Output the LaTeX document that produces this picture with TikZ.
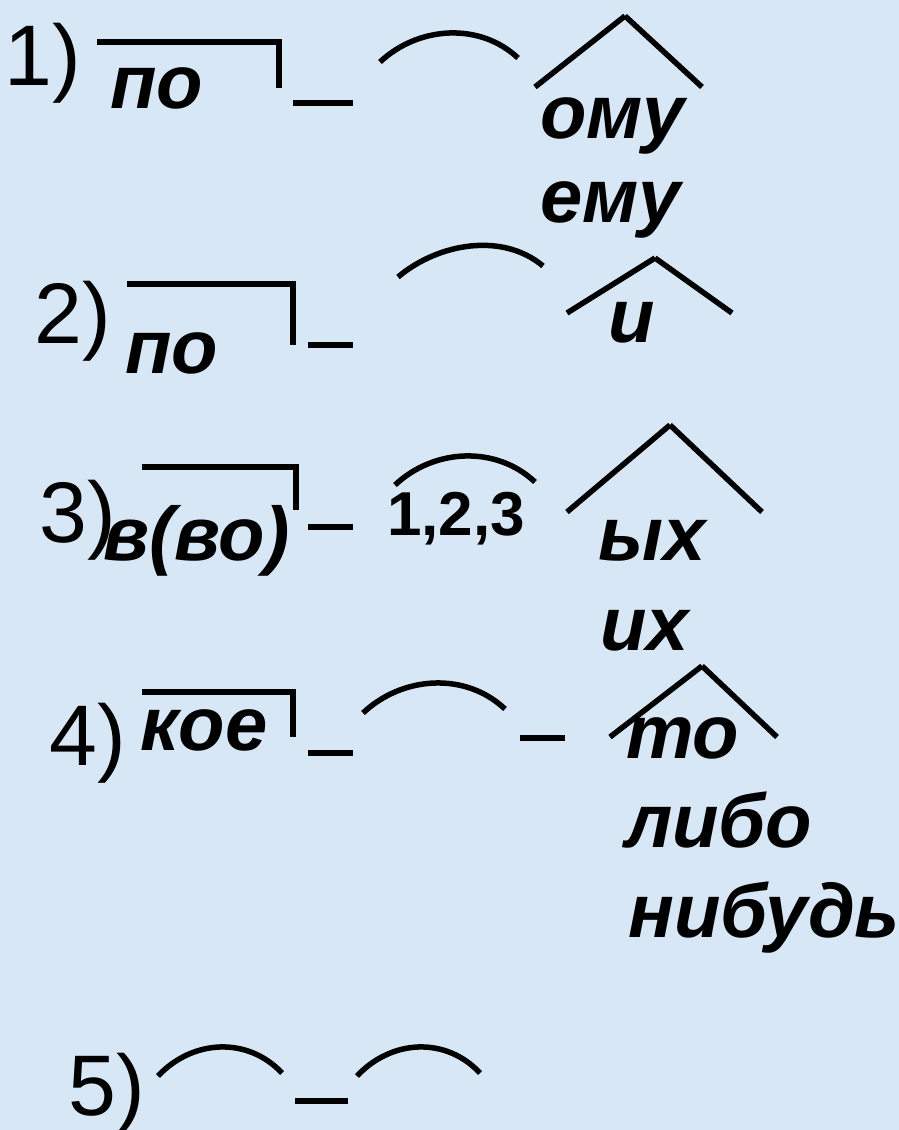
\documentclass[tikz,border=0pt]{standalone}
\usepackage{fontspec}
\setmainfont{Liberation Sans}
\definecolor{bgblue}{RGB}{216,231,246}
\tikzset{
  ln/.style={line width=5.5pt, line cap=butt},
  num/.style={anchor=base west, inner sep=0pt, font=\fontsize{86}{90}\selectfont},
  part/.style={anchor=base west, inner sep=0pt, font=\fontsize{76}{80}\selectfont\bfseries\itshape},
  digits/.style={anchor=base west, inner sep=0pt, font=\fontsize{62}{64}\selectfont\bfseries}
}
\begin{document}
\begin{tikzpicture}[x=1pt,y=-1pt]
\fill[bgblue] (0,0) rectangle (899,1130);
\useasboundingbox (0,0) rectangle (899,1130);

% Row 1
\node[num] (n1) at (4,85) {1)};
\node[part] (p1) at (110,108) {по};
\draw[ln] (97,42) -- (279,42) -- (279,88);
\draw[ln] (293,103) -- (353,103);
\draw[ln] (380,62) .. controls (418.4,26) and (479.6,22) .. (518,58);
\draw[ln] (535,87) -- (625,16);
\draw[ln] (625,16) -- (702,87);
\node[part] (e1) at (540,138) {ому};
\node[part] (e2) at (540,222) {ему};

% Row 2
\node[num] (n2) at (34,343) {2)};
\node[part] (p2) at (125,373) {по};
\draw[ln] (127,284) -- (293,284) -- (293,345);
\draw[ln] (308,345) -- (353,345);
\draw[ln] (398,277) .. controls (438.4,243) and (502.6,232) .. (543,266);
\draw[ln] (567,313) -- (655,258);
\draw[ln] (655,258) -- (732,313);
\node[part] (e3) at (608,342) {и};

% Row 3
\node[num] (n3) at (39,542) {3)};
\node[part] (p3) at (103,560) {в(во)};
\draw[ln] (142,467) -- (296,467) -- (296,510);
\draw[ln] (308,527) -- (353,527);
\draw[ln] (395,485) .. controls (434,448.3) and (496,445.3) .. (535,482);
\node[digits] (d3) at (387,535) {1,2,3};
\draw[ln] (567,512) -- (670,425);
\draw[ln] (670,425) -- (762,512);
\node[part] (e4) at (598,560) {ых};
\node[part] (e5) at (600,650) {их};

% Row 4
\node[num] (n4) at (49,765) {4)};
\node[part] (p4) at (140,750) {кое};
\draw[ln] (142,692) -- (293,692) -- (293,737);
\draw[ln] (308,753) -- (353,753);
\draw[ln] (363,713) .. controls (402.5,675.7) and (465.5,671.7) .. (505,709);
\draw[ln] (520,738) -- (565,738);
\draw[ln] (610,737) -- (702,666);
\draw[ln] (702,666) -- (777,737);
\node[part] (e6) at (626,758) {то};
\node[part] (e7) at (625,847) {либо};
\node[part] (e8) at (628,937) {нибудь};

% Row 5
\node[num] (n5) at (68,1115) {5)};
\draw[ln] (158,1076) .. controls (192.5,1039.3) and (247.5,1036.3) .. (282,1073);
\draw[ln] (295,1101) -- (348,1101);
\draw[ln] (357,1076) .. controls (391.3,1039.3) and (445.7,1036.3) .. (480,1073);
\end{tikzpicture}
\end{document}
